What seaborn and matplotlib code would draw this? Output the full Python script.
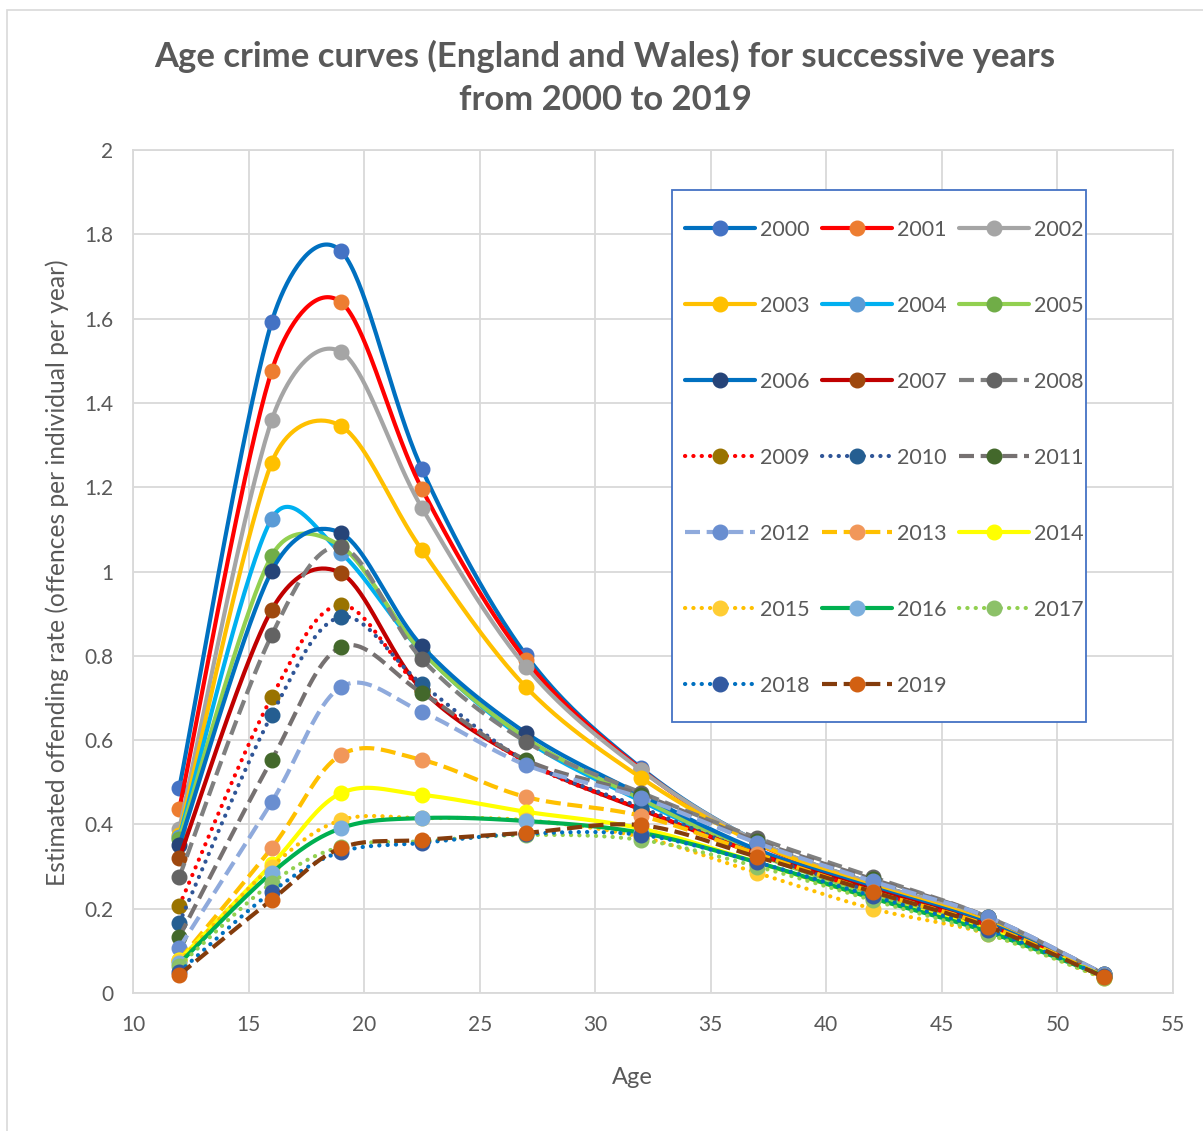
import numpy as np
import matplotlib
matplotlib.use('Agg')
import matplotlib.pyplot as plt
import seaborn as sns
import pandas as pd
from matplotlib.lines import Line2D
from matplotlib.patches import Rectangle

ages = [12, 16, 19, 22.5, 27, 32, 37, 42, 47, 52]
years = list(range(2000, 2020))

rate_2000 = [0.486, 1.592, 1.760, 1.243, 0.802, 0.533, 0.360, 0.260, 0.175, 0.040]
rate_2001 = [0.436, 1.476, 1.639, 1.196, 0.790, 0.530, 0.355, 0.255, 0.170, 0.040]
rate_2002 = [0.389, 1.359, 1.521, 1.151, 0.774, 0.528, 0.360, 0.260, 0.175, 0.040]
rate_2003 = [0.375, 1.258, 1.345, 1.051, 0.726, 0.510, 0.355, 0.255, 0.170, 0.040]
rate_2004 = [0.370, 1.125, 1.044, 0.810, 0.600, 0.455, 0.330, 0.240, 0.160, 0.040]
rate_2005 = [0.365, 1.037, 1.060, 0.810, 0.605, 0.460, 0.330, 0.235, 0.155, 0.040]
rate_2006 = [0.351, 1.001, 1.091, 0.823, 0.617, 0.470, 0.340, 0.250, 0.165, 0.040]
rate_2007 = [0.320, 0.909, 0.996, 0.720, 0.550, 0.435, 0.330, 0.245, 0.160, 0.040]
rate_2008 = [0.275, 0.849, 1.058, 0.792, 0.596, 0.475, 0.368, 0.275, 0.180, 0.045]
rate_2009 = [0.207, 0.702, 0.920, 0.720, 0.548, 0.435, 0.330, 0.240, 0.160, 0.040]
rate_2010 = [0.166, 0.660, 0.892, 0.733, 0.550, 0.440, 0.330, 0.240, 0.160, 0.040]
rate_2011 = [0.133, 0.553, 0.821, 0.712, 0.553, 0.470, 0.360, 0.270, 0.180, 0.045]
rate_2012 = [0.107, 0.453, 0.726, 0.667, 0.541, 0.463, 0.356, 0.265, 0.180, 0.045]
rate_2013 = [0.078, 0.344, 0.565, 0.553, 0.465, 0.420, 0.330, 0.240, 0.160, 0.040]
rate_2014 = [0.078, 0.305, 0.474, 0.470, 0.430, 0.390, 0.310, 0.225, 0.150, 0.040]
rate_2015 = [0.075, 0.300, 0.410, 0.415, 0.410, 0.370, 0.285, 0.200, 0.140, 0.035]
rate_2016 = [0.070, 0.285, 0.391, 0.415, 0.408, 0.380, 0.310, 0.225, 0.145, 0.040]
rate_2017 = [0.065, 0.261, 0.347, 0.360, 0.375, 0.363, 0.300, 0.220, 0.140, 0.035]
rate_2018 = [0.050, 0.240, 0.335, 0.356, 0.378, 0.375, 0.310, 0.230, 0.150, 0.040]
rate_2019 = [0.043, 0.221, 0.344, 0.363, 0.380, 0.398, 0.323, 0.240, 0.157, 0.038]

rates = [rate_2000, rate_2001, rate_2002, rate_2003, rate_2004, rate_2005, rate_2006,
         rate_2007, rate_2008, rate_2009, rate_2010, rate_2011, rate_2012, rate_2013,
         rate_2014, rate_2015, rate_2016, rate_2017, rate_2018, rate_2019]

line_colors = ['#0070C0', '#FF0000', '#A5A5A5', '#FFC000', '#00B0F0', '#92D050', '#0070C0',
               '#C00000', '#7F7F7F', '#FF0000', '#2F5597', '#767171', '#8FAADC', '#FFC000',
               '#FFFF00', '#FFC000', '#00B050', '#92D050', '#0070C0', '#843C0C']
marker_colors = ['#4472C4', '#ED7D31', '#A5A5A5', '#FFC000', '#5B9BD5', '#70AD47', '#264478',
                 '#9E480E', '#636363', '#997300', '#255E91', '#43682B', '#698ED0', '#F1975A',
                 '#FFFF00', '#FFCD33', '#7CAFDD', '#8CC168', '#335AA1', '#D26012']
styles = ['solid'] * 8 + ['dash', 'dot', 'dot', 'dash', 'dash', 'dash', 'solid', 'dot',
                          'solid', 'dot', 'dot', 'dash']

# pixels per data unit on the plot area, used so the smoothing works in screen space
XS, YS = 1040 / 45, 843 / 2


def smooth(xs, ys, n=40):
    # Excel-style smoothed line: Bezier, tangent 1/6 of chord, capped at half the segment
    pts = np.column_stack([np.array(xs) * XS, np.array(ys) * YS]).astype(float)
    P = np.vstack([pts[0], pts, pts[-1]])
    t = np.linspace(0, 1, n)[:, None]
    out = []
    for i in range(1, len(P) - 2):
        p0, p1, p2, p3 = P[i - 1], P[i], P[i + 1], P[i + 2]
        d12 = np.hypot(*(p2 - p1))
        d02 = np.hypot(*(p2 - p0))
        d13 = np.hypot(*(p3 - p1))
        f = 1 / 6 if d02 == 0 or d02 / 6 < d12 / 2 else d12 / (2 * d02)
        g = 1 / 6 if d13 == 0 or d13 / 6 < d12 / 2 else d12 / (2 * d13)
        c1 = p1 + f * (p2 - p0)
        c2 = p2 - g * (p3 - p1)
        seg = (1 - t) ** 3 * p1 + 3 * (1 - t) ** 2 * t * c1 + 3 * (1 - t) * t ** 2 * c2 + t ** 3 * p2
        out.append(seg if i == 1 else seg[1:])
    out = np.vstack(out)
    return out[:, 0] / XS, out[:, 1] / YS


def main():
    sns.set_theme(style='white')
    plt.rcParams['font.family'] = ['Lato', 'DejaVu Sans']
    grey = '#595959'

    fig = plt.figure(figsize=(12.03, 11.31), dpi=100)
    ax = fig.add_axes([133 / 1203, 1 - 993 / 1131, (1173 - 133) / 1203, (993 - 150) / 1131])
    fig.patches.append(Rectangle((7 / 1203, -0.1), 1.2, 1 - 10 / 1131 + 0.1, transform=fig.transFigure,
                                 fill=False, edgecolor='#D9D9D9', linewidth=1.2))

    lw = 3.0
    ms = 10.5
    handles = []
    for yr, vals, lc, mc, st in zip(years, rates, line_colors, marker_colors, styles):
        cx, cy = smooth(ages, vals)
        df = pd.DataFrame({'x': cx, 'y': cy})
        if st == 'dash':
            ls, cap = (0, (3.6, 1.6)), 'butt'
        elif st == 'dot':
            ls, cap = (0, (0.05, 1.95)), 'round'
        else:
            ls, cap = '-', 'round'
        sns.lineplot(data=df, x='x', y='y', sort=False, estimator=None, ax=ax, legend=False,
                     color=lc, linewidth=lw)
        ln = ax.lines[-1]
        ln.set_linestyle(ls)
        ln.set_dash_capstyle(cap)
        ax.plot(ages, vals, linestyle='none', marker='o', markersize=ms,
                markerfacecolor=mc, markeredgecolor=mc)
        h = Line2D([0], [0], color=lc, linewidth=lw, marker='o', markersize=ms,
                   markerfacecolor=mc, markeredgecolor=mc, linestyle=ls)
        h.set_dash_capstyle(cap)
        h.set_solid_capstyle('round')
        handles.append(h)

    ax.set_xlim(10, 55)
    ax.set_ylim(0, 2)
    ax.set_xticks(np.arange(10, 56, 5))
    ax.set_yticks(np.arange(0, 2.01, 0.2))
    ax.set_yticklabels(['0', '0.2', '0.4', '0.6', '0.8', '1', '1.2', '1.4', '1.6', '1.8', '2'])
    ax.grid(True, color='#D9D9D9', linewidth=1.3)
    ax.set_axisbelow(True)
    for s in ax.spines.values():
        s.set_color('#D9D9D9')
        s.set_linewidth(1.3)
    ax.tick_params(axis='both', colors=grey, labelsize=15, length=0)
    ax.tick_params(axis='x', pad=16)
    ax.tick_params(axis='y', pad=14)
    ax.set_xlabel('Age', fontsize=17, color=grey)
    ax.xaxis.set_label_coords((632 - 133) / 1040, -(1077 - 993) / 843, transform=ax.transAxes)
    ax.xaxis.label.set_va('center')
    ax.set_ylabel('Estimated offending rate (offences per individual per year)', fontsize=17.7,
                  color=grey)
    ax.yaxis.set_label_coords(-(133 - 57) / 1040, (993 - 573) / 843, transform=ax.transAxes)
    ax.yaxis.label.set_va('center')

    fig.text(605 / 1203, 1 - 78 / 1131,
             'Age crime curves (England and Wales) for successive years\nfrom 2000 to 2019',
             ha='center', va='center', fontsize=24.9, fontweight='bold', color=grey,
             linespacing=1.45)

    # legend box, drawn above the curves and under the legend entries
    ax.add_patch(Rectangle((672 / 1203, 1 - 722 / 1131), (1086 - 672) / 1203, (722 - 190) / 1131,
                           transform=fig.transFigure, fill=True, facecolor='white',
                           edgecolor='#4472C4', linewidth=1.3, zorder=4, clip_on=False))

    # legend filled row by row, like the original
    order = [i for c in range(3) for i in range(c, len(years), 3)]
    leg = ax.legend([handles[i] for i in order], [str(years[i]) for i in order], ncol=3,
                    loc='upper left', bbox_to_anchor=(685 / 1203, 1 - 220 / 1131),
                    bbox_transform=fig.transFigure, fontsize=15.5, handlelength=3.25,
                    handletextpad=0.25, columnspacing=0.55, labelspacing=2.6, borderpad=0,
                    borderaxespad=0, frameon=False, numpoints=1)
    leg.set_zorder(6)
    for txt in leg.get_texts():
        txt.set_color(grey)

    fig.savefig('out.png', dpi=100, facecolor='white')


if __name__ == '__main__':
    main()
